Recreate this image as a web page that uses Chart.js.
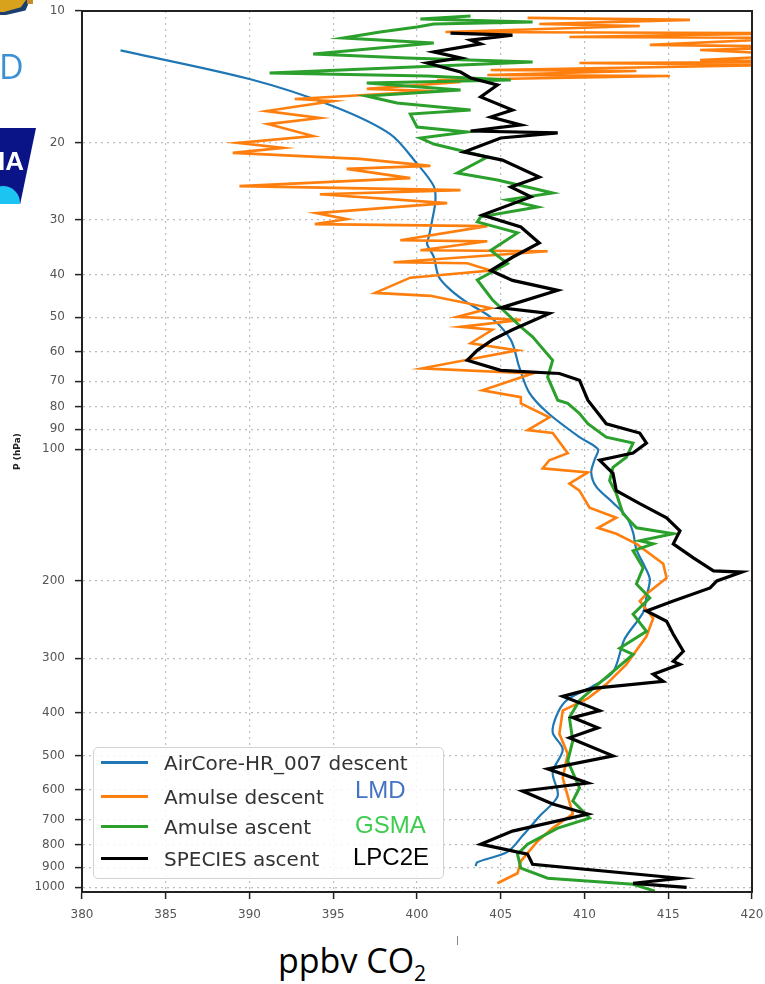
<!DOCTYPE html>
<html>
<head>
<meta charset="utf-8">
<script src="https://cdn.jsdelivr.net/npm/chart.js@4.4.1/dist/chart.umd.min.js"></script>
<style>
  body { margin: 0; background: #fff; }
  #wrap { position: relative; width: 765px; height: 984px; overflow: hidden; }
  #c { position: absolute; left: 0; top: 0; }
  .abs { position: absolute; }
  #legend { left: 93px; top: 747px; width: 349px; height: 130px; border: 1.5px solid #d2d2d2; border-radius: 5px; background: rgba(255,255,255,0.85); }
  .lg-line { position: absolute; left: 7px; width: 47px; height: 3px; }
  .lg-text { position: absolute; left: 70px; font-family: 'DejaVu Sans'; font-size: 20px; line-height: 20px; color: #333; white-space: nowrap; }
  .tag { position: absolute; font-family: 'Liberation Sans'; font-size: 24px; line-height: 24px; white-space: nowrap; }
  #xtitle { left: 278px; top: 943px; font-family: 'Open Sans'; font-size: 34px; line-height: 34px; color: #000; white-space: nowrap; }
  #xtitle sub { font-size: 21px; vertical-align: -8px; }
</style>
</head>
<body>
<div id="wrap">
  <canvas id="c" width="765" height="935"></canvas>

  <!-- logo fragments at the left edge -->
  <div class="abs" style="left:0;top:0;width:30px;height:15px;background:#1d3f6e;clip-path:polygon(0 0,100% 0,85% 70%,20% 100%,0 100%)"></div>
  <div class="abs" style="left:0;top:0;width:26px;height:12px;background:#d9a21c;clip-path:polygon(0 0,100% 0,80% 60%,15% 100%,0 100%)"></div>
  <div class="abs" style="left:27px;top:0;width:6px;height:4px;background:#c98a2a"></div>
  <div class="abs" style="left:-1px;top:49px;font-family:'Open Sans';font-size:34px;line-height:34px;color:#3b8fd4">D</div>
  <div class="abs" style="left:0;top:128px;width:36px;height:76px;background:#0b1487;clip-path:polygon(0 0,100% 0,56% 100%,0 100%);overflow:hidden">
    <div class="abs" style="left:-2px;top:20px;font-family:'Liberation Sans';font-weight:bold;font-size:26px;line-height:26px;color:#fff">IA</div>
    <div class="abs" style="left:-14px;top:58px;width:34px;height:34px;border-radius:50%;background:#1cc4f2"></div>
  </div>

  <div id="legend" class="abs"></div>

  <div class="tag" style="left:355px;top:778px;color:#4472c4">LMD</div>
  <div class="tag" style="left:355px;top:813px;color:#3dcc4e">GSMA</div>
  <div class="tag" style="left:353px;top:845px;color:#000">LPC2E</div>

  <div id="xtitle" class="abs">ppbv CO<sub>2</sub></div>
  <div class="abs" style="left:457px;top:936px;width:1px;height:9px;background:#888"></div>
</div>

<script>
// pressure axis tick labels (hPa)
const pressureTicks = [10, 20, 30, 40, 50, 60, 70, 80, 90, 100, 200, 300, 400, 500, 600, 700, 800, 900, 1000]

// AirCore-HR_007 descent
const aircoreP = [12.3, 14.3, 16.5, 19.1, 22.3, 25.1, 27.1, 30.1, 32.8, 34.0, 36.4, 40.4, 43.3, 46.3, 50.0, 56.3, 64.9, 74.3, 82.6, 93.9, 100, 105.7, 113, 121.8, 132.5, 142.6, 155, 169.6, 185.4, 198.4, 217, 236, 271, 323, 347.5, 372.6, 400, 443, 484.5, 546.8, 619, 689, 763, 830, 876.6, 895]
const aircoreCO2 = [382.3, 390.0, 395.0, 398.4, 400.0, 401.0, 401.1, 400.9, 400.7, 400.6, 401.0, 401.3, 402.0, 403.0, 404.4, 405.6, 406.1, 406.7, 407.8, 409.7, 410.8, 410.6, 410.4, 410.7, 411.7, 412.5, 412.9, 413.1, 413.6, 413.9, 413.7, 413.5, 412.4, 411.7, 410.5, 409.0, 408.4, 408.1, 408.7, 408.1, 408.4, 407.3, 406.3, 405.4, 403.6, 403.5]

// Amulse descent
const amulseDescP = [10.37, 10.48, 10.71, 10.82, 11.17, 11.23, 11.46, 11.52, 11.95, 12.08, 12.27, 12.60, 12.94, 13.07, 13.14, 13.28, 13.63, 13.71, 14.00, 14.07, 14.37, 14.52, 15.06, 15.22, 15.88, 16.05, 16.92, 17.55, 18.12, 19.29, 20.0, 20.53, 21.08, 21.75, 22.57, 22.93, 24.07, 25.10, 25.64, 26.19, 27.45, 28.93, 29.86, 30.65, 30.97, 33.37, 33.55, 35.16, 35.35, 37.46, 37.66, 39.12, 40.61, 43.99, 44.68, 47.64, 49.9, 50.7, 52.6, 53.4, 57.3, 59.5, 65.4, 67.2, 69.6, 73.4, 76.1, 78.6, 84.6, 90.5, 91.9, 102.1, 106.0, 110.6, 113.0, 119.9, 124.4, 136.0, 143.4, 151.2, 156.0, 164.5, 182.7, 196.8, 214.1, 222.2, 243.2, 267.4, 309.8, 344.2, 370.5, 395.1, 446.5, 496.0, 562.9, 680.4, 732.5, 784.7, 872.0, 928.8, 979.1]
const amulseDescCO2 = [406.6, 416.3, 407.3, 413.3, 401.7, 423, 409.1, 423, 413.9, 424, 416.9, 423, 416.9, 424, 409.7, 422, 404.4, 413.1, 404.2, 415.1, 401.2, 402.6, 397.0, 401.0, 392.7, 395.0, 391.0, 394.2, 391.1, 393.8, 389.3, 392.0, 389.0, 396.6, 400.8, 395.8, 399.6, 389.4, 402.6, 394.2, 401.8, 394.0, 395.8, 393.9, 404.2, 399.0, 404.2, 400.2, 407.8, 398.6, 403.0, 404.4, 399.6, 397.5, 400.8, 404.4, 402.4, 406.2, 402.6, 404.5, 403.2, 406.0, 400.3, 406.9, 405.7, 403.9, 406.2, 406.2, 407.9, 406.6, 408.1, 409.0, 407.9, 407.5, 410.2, 409.1, 409.7, 410.3, 411.9, 410.8, 411.9, 413.1, 414.7, 414.9, 413.7, 413.3, 414.1, 413.7, 412.5, 411.3, 410.2, 408.7, 408.5, 409.0, 408.7, 409.3, 408.1, 407.2, 406.2, 406.0, 404.8]

// Amulse ascent
const amulseAscP = [10.27, 10.43, 10.60, 10.71, 10.88, 11.17, 11.52, 11.83, 12.54, 12.80, 13.07, 13.86, 14.07, 14.37, 14.60, 15.15, 15.63, 16.21, 16.83, 17.19, 18.40, 18.89, 19.50, 20.12, 21.54, 23.43, 24.31, 26.02, 26.98, 28.0, 29.5, 30.3, 32.1, 35.2, 37.7, 41.1, 45.6, 52.6, 55.4, 62.7, 68.5, 77.3, 78.6, 82.9, 87.5, 93.9, 96.9, 104.3, 110.0, 118.0, 126.3, 140.4, 151.2, 156.0, 161.9, 164.5, 170.6, 186.6, 203.1, 218.7, 238.0, 260.5, 284.8, 293.9, 344.2, 374.5, 409.9, 463.2, 514.7, 593.4, 635.5, 695.0, 732.5, 797.1, 840.1, 904.6, 953.5, 984.2, 1020]
const amulseAscCO2 = [403.2, 400.2, 406.9, 401.0, 400.0, 397.8, 395.6, 401.0, 393.8, 399.4, 406.9, 391.2, 400.6, 405.6, 397.0, 402.6, 397.0, 398.8, 403.2, 399.6, 400.0, 403.0, 400.2, 401.0, 404.2, 402.4, 404.8, 408.1, 405.4, 407.2, 403.8, 403.6, 406.0, 404.4, 405.4, 403.6, 404.5, 406.2, 406.9, 408.1, 407.8, 408.4, 409.0, 409.7, 410.2, 411.3, 412.9, 412.5, 411.7, 411.5, 411.9, 412.3, 413.1, 415.3, 413.3, 414.1, 412.9, 413.5, 413.1, 413.9, 412.9, 413.7, 412.1, 412.9, 410.8, 409.7, 409.1, 409.3, 409.0, 409.7, 409.3, 410.3, 408.4, 406.6, 406.0, 406.2, 407.8, 412.9, 414.2]

// SPECIES ascent
const speciesP = [11.23, 11.35, 11.65, 11.89, 12.40, 12.80, 13.14, 13.78, 14.22, 14.75, 15.71, 16.83, 17.46, 18.20, 18.79, 18.98, 19.49, 20.99, 21.89, 23.93, 25.22, 26.56, 29.22, 31.11, 33.84, 36.48, 39.12, 41.2, 43.4, 47.6, 49.0, 53.4, 56.3, 59.5, 62.7, 66.1, 67.2, 69.6, 77.3, 87.5, 91.9, 96.9, 102.1, 106.0, 113.6, 124.4, 133.2, 143.4, 153.6, 164.5, 177.0, 189.6, 190.8, 199.9, 207.4, 222.2, 234.1, 247.1, 264.6, 289.3, 305.0, 309.8, 326.4, 338.8, 351.5, 366.6, 395.1, 409.9, 432.5, 455.9, 501.2, 536.6, 578.0, 602.9, 645.6, 680.4, 744.3, 797.1, 840.1, 885.8, 953.5, 979.1, 1000]
const speciesCO2 = [402.0, 405.7, 403.2, 403.8, 401.0, 402.6, 400.6, 402.6, 403.2, 404.8, 403.8, 405.7, 404.4, 406.2, 403.2, 408.4, 405.0, 402.8, 405.1, 407.3, 405.6, 406.8, 403.9, 406.2, 407.3, 405.7, 404.4, 405.7, 408.4, 405.0, 407.9, 405.7, 404.5, 403.6, 403.0, 405.0, 408.5, 409.7, 410.2, 411.3, 413.3, 413.7, 412.9, 410.9, 411.7, 411.9, 413.3, 414.9, 415.7, 415.3, 416.5, 417.7, 419.4, 417.9, 417.5, 415.3, 413.7, 414.9, 415.3, 415.9, 415.3, 415.7, 414.1, 414.7, 410.5, 408.7, 410.9, 409.3, 410.8, 409.1, 411.7, 407.8, 410.2, 406.3, 408.1, 410.2, 405.7, 403.8, 406.6, 406.9, 415.7, 412.9, 416.1]

const legendRows = [763, 797, 827, 859]

function profile (pressures, values) {
  return pressures.map((p, i) => ({ x: values[i], y: p }))
}

// stop the tick labels from pushing the plot area inwards
function noOverflow (scale) {
  scale.paddingLeft = 0
  scale.paddingRight = 0
  scale.paddingTop = 0
  scale.paddingBottom = 0
}

const tickFont = { family: 'DejaVu Sans', size: 12 }
const gridOpts = { color: '#bdbdbd', lineWidth: 1.2, tickLength: 7, tickColor: '#222', tickWidth: 1.5 }
const borderOpts = { display: true, color: '#222', width: 2, dash: [2, 4] }

// top and right spines, like the matplotlib frame
const framePlugin = {
  id: 'frame',
  afterDatasetsDraw (chart) {
    const { ctx, chartArea } = chart
    ctx.save()
    ctx.strokeStyle = '#222'
    ctx.lineWidth = 2
    ctx.strokeRect(chartArea.left, chartArea.top, chartArea.right - chartArea.left, chartArea.bottom - chartArea.top)
    ctx.restore()
  }
}

const chart = new Chart(document.getElementById('c'), {
  type: 'scatter',
  data: {
    datasets: [
      { label: 'AirCore-HR_007 descent', data: profile(aircoreP, aircoreCO2), borderColor: '#1f77b4', borderWidth: 2.2, tension: 0.3, order: 3 },
      { label: 'Amulse descent', data: profile(amulseDescP, amulseDescCO2), borderColor: '#ff7f0e', borderWidth: 2.6, order: 2 },
      { label: 'Amulse ascent', data: profile(amulseAscP, amulseAscCO2), borderColor: '#2ca02c', borderWidth: 3, order: 1 },
      { label: 'SPECIES ascent', data: profile(speciesP, speciesCO2), borderColor: '#000000', borderWidth: 3.2, order: 0 }
    ].map(ds => Object.assign({ showLine: true, pointRadius: 0, backgroundColor: ds.borderColor, clip: 0 }, ds))
  },
  options: {
    responsive: false,
    animation: false,
    devicePixelRatio: 1,
    layout: { padding: { top: 11, right: 13, left: 0, bottom: 0 } },
    plugins: {
      legend: { display: false },
      tooltip: { enabled: false }
    },
    scales: {
      x: {
        type: 'linear',
        min: 380,
        max: 420,
        ticks: { stepSize: 5, color: '#555', font: tickFont, padding: 9 },
        grid: gridOpts,
        border: borderOpts,
        afterFit (scale) {
          scale.height = 43
          noOverflow(scale)
        }
      },
      y: {
        type: 'logarithmic',
        reverse: true,
        min: 10,
        max: 1025,
        afterBuildTicks (scale) {
          scale.ticks = pressureTicks.map(v => ({ value: v }))
        },
        ticks: { autoSkip: false, color: '#555', font: tickFont, padding: 10, callback: v => String(v) },
        grid: gridOpts,
        border: borderOpts,
        title: { display: true, text: 'P (hPa)', color: '#222', font: { family: 'DejaVu Sans', size: 9, weight: 'bold' }, padding: { top: 12, bottom: 0 } },
        afterFit (scale) {
          scale.width = 82
          noOverflow(scale)
        }
      }
    }
  },
  plugins: [framePlugin]
})

// legend box drawn from the dataset labels and colours
const legend = document.getElementById('legend')
chart.data.datasets.forEach((ds, i) => {
  const line = document.createElement('div')
  line.className = 'lg-line'
  line.style.background = ds.borderColor
  line.style.top = (legendRows[i] - 747 - 1.5 - 1.5) + 'px'
  legend.appendChild(line)

  const text = document.createElement('div')
  text.className = 'lg-text'
  text.textContent = ds.label
  text.style.top = (legendRows[i] - 747 - 1.5 - 9.6) + 'px'
  legend.appendChild(text)
})
</script>
</body>
</html>
